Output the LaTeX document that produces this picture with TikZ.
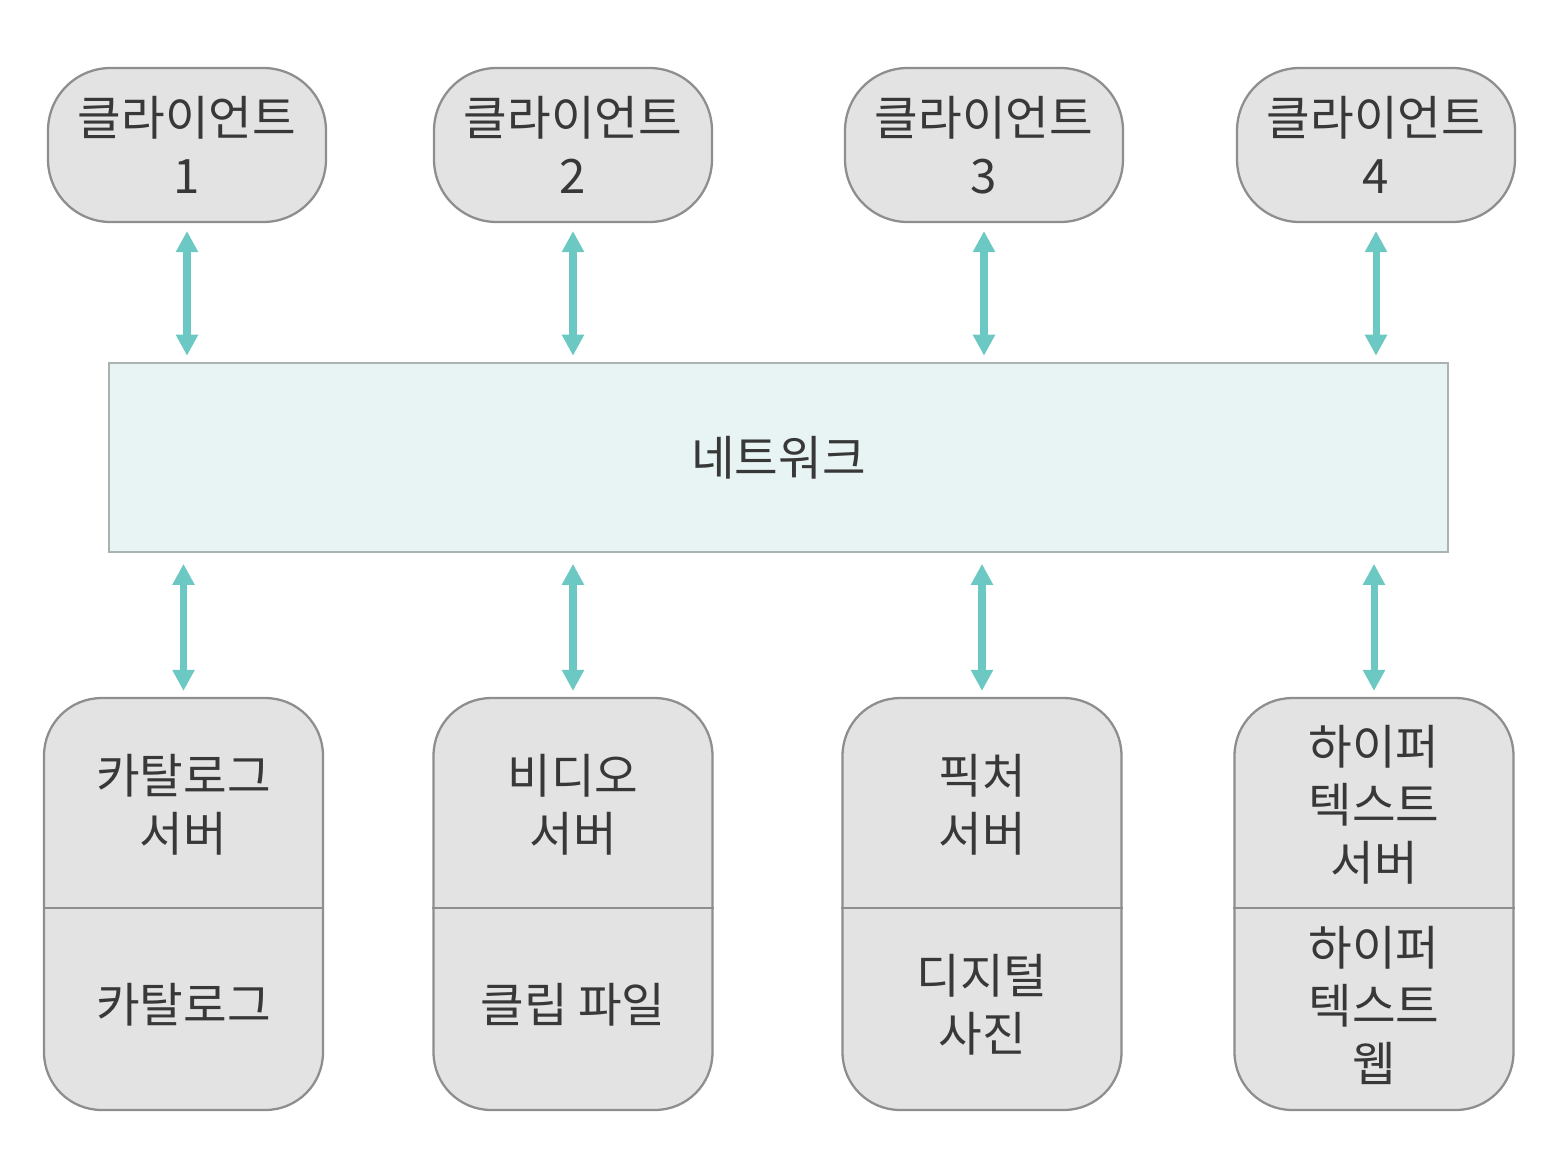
\documentclass[tikz,border=0pt]{standalone}
\usepackage{fontspec}
\setmainfont{Noto Sans CJK KR}
\usetikzlibrary{arrows.meta}
\definecolor{boxgray}{HTML}{E3E3E3}
\definecolor{edgegray}{HTML}{8E8E8E}
\definecolor{netfill}{HTML}{E7F4F3}
\definecolor{netedge}{HTML}{A9B3B1}
\definecolor{linkteal}{HTML}{6CC8C2}

\begin{document}
\begin{tikzpicture}[x=0.02cm,y=-0.02cm,
    every node/.style={font=\fontsize{27}{33}\selectfont,text=black!78,align=center},
    client/.style={draw=edgegray,fill=boxgray,line width=1.3pt,rounded corners=1.25cm,
      minimum width=5.56cm,minimum height=3.08cm,inner sep=0pt},
    server/.style={draw=edgegray,fill=boxgray,line width=1.3pt,rounded corners=1.15cm,
      minimum width=5.58cm,minimum height=8.24cm,inner sep=0pt},
    link/.style={draw=linkteal,line width=4pt,
      {Triangle[length=12pt,width=12pt]}-{Triangle[length=12pt,width=12pt]}}]
    \useasboundingbox (0,0) rectangle (1552,1174);
    \node[draw=netedge,fill=netfill,line width=1.5pt,minimum width=26.78cm,
      minimum height=3.78cm] (net) at (778.5,457.5) {네트워크};
    \foreach \i/\x in {1/187,2/573,3/984,4/1376}
      \node[client] (c\i) at (\x,145) {클라이언트\\\i};
    \foreach \i/\x/\upper/\lower in {1/183.5/{카탈로그\\서버}/{카탈로그},
        2/573/{비디오\\서버}/{클립 파일},
        3/982/{픽처\\서버}/{디지털\\사진},
        4/1374/{하이퍼\\텍스트\\서버}/{하이퍼\\텍스트\\웹}} {
      \node[server] (s\i) at (\x,904) {};
      \draw[edgegray,line width=1.5pt] (s\i.west |- 0,908) -- (s\i.east |- 0,908);
      \node (u\i) at (\x,805) {\upper};
      \node (l\i) at (\x,1005) {\lower};
    }
    \foreach \i in {1,...,4} {
      \draw[link,shorten <=4.5pt,shorten >=3.4pt] (c\i.south) -- (c\i.south |- net.north);
      \draw[link,shorten <=6pt,shorten >=3.4pt] (s\i.north |- net.south) -- (s\i.north);
    }
\end{tikzpicture}
\end{document}
